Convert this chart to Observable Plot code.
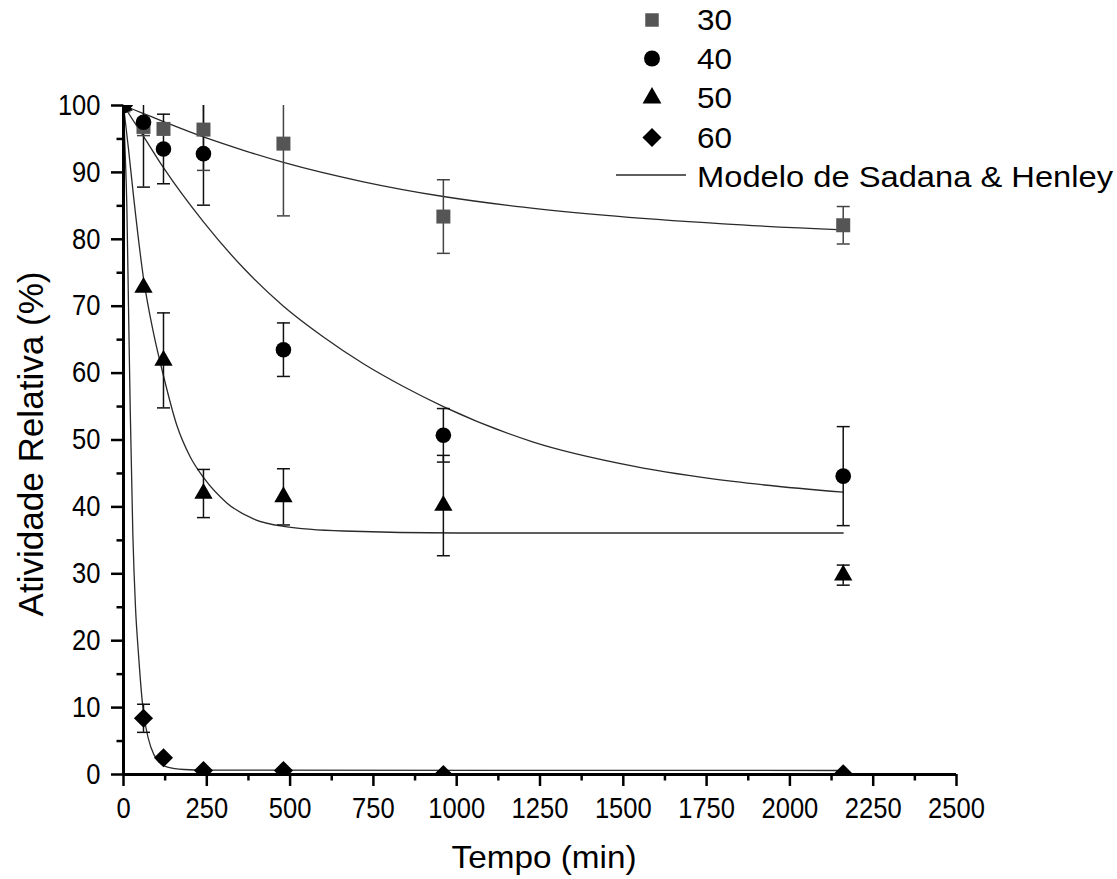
<!DOCTYPE html>
<html>
<head>
<meta charset="utf-8">
<script src="https://cdn.jsdelivr.net/npm/d3@7"></script>
<script src="https://cdn.jsdelivr.net/npm/@observablehq/plot@0.6"></script>
<style>
  html, body { margin: 0; padding: 0; background: #fff; }
  svg { display: block; }
</style>
</head>
<body>
<div id="chart"></div>
<script>
// ---------- data ----------
const times = [0, 60, 120, 240, 480, 960, 2160];

const act30 = [100, 96.8, 96.5, 96.4, 94.3, 83.4, 82.1];
const err30 = [0, 1.3, 0, 6.1, 10.8, 5.5, 2.8];

const act40 = [100, 97.5, 93.5, 92.8, 63.5, 50.7, 44.6];
const err40 = [0, 9.7, 5.2, 7.7, 4.0, 4.0, 7.4];

const act50 = [100, 72.8, 61.9, 42.0, 41.5, 40.2, 29.8];
const err50 = [0, 0, 7.1, 3.6, 4.2, 7.5, 1.5];

const act60 = [100, 8.4, 2.5, 0.6, 0.6, 0.0, 0.1];
const err60 = [0, 2.1, 0, 0, 0, 0, 0];

// model curves (Sadana & Henley)
const fit30T = [0, 60, 120, 240, 360, 480, 720, 960, 1200, 1440, 1800, 2160];
const fit30  = [100, 98.8, 97.6, 95.3, 93.3, 91.5, 88.6, 86.4, 84.8, 83.6, 82.3, 81.4];
const fit40T = [0, 60, 120, 240, 360, 480, 600, 720, 840, 960, 1230, 1530, 1830, 2160];
const fit40  = [100, 95.4, 90.7, 82.6, 75.7, 70.0, 65.4, 61.4, 58.0, 55.0, 49.7, 46.1, 43.8, 42.2];
const fit50T = [0, 15, 30, 60, 90, 120, 160, 200, 240, 310, 390, 480, 660, 1000, 1500, 2160];
const fit50  = [100, 93.5, 86.5, 74.2, 66.0, 59.6, 52.2, 47.5, 44.4, 40.6, 38.2, 37.1, 36.4, 36.1, 36.1, 36.1];
const fit60T = [0, 5, 10, 15, 20, 28, 36, 45, 57, 67, 82, 102, 132, 182, 250, 2160];
const fit60  = [100, 93, 85, 70, 55, 36, 25, 18, 10.6, 7.1, 4.1, 2.1, 1.1, 0.75, 0.65, 0.6];

const seriesNames = ["30", "40", "50", "60"];
const modelLabel = "Modelo de Sadana & Henley";
const xLabel = "Tempo (min)";
const yLabel = "Atividade Relativa (%)";

const xMajor = [0, 250, 500, 750, 1000, 1250, 1500, 1750, 2000, 2250, 2500];
const xMinor = [125, 375, 625, 875, 1125, 1375, 1625, 1875, 2125, 2375];
const yMajor = [0, 10, 20, 30, 40, 50, 60, 70, 80, 90, 100];
const yMinor = [5, 15, 25, 35, 45, 55, 65, 75, 85, 95];

// ---------- build tables ----------
const pts = (vals, errs, s) => times.map((t, i) => ({t, v: vals[i], e: errs[i], s}));
const p30 = pts(act30, err30, "30");
const p40 = pts(act40, err40, "40");
const p50 = pts(act50, err50, "50");
const p60 = pts(act60, err60, "60");
const errRows = [...p30, ...p40, ...p50, ...p60]
  .filter(d => d.e > 0)
  .map(d => ({...d, lo: d.v - d.e, hi: d.v + d.e}));
const fitRows = [
  ...fit30T.map((t, i) => ({t, v: fit30[i], s: "30"})),
  ...fit40T.map((t, i) => ({t, v: fit40[i], s: "40"})),
  ...fit50T.map((t, i) => ({t, v: fit50[i], s: "50"})),
  ...fit60T.map((t, i) => ({t, v: fit60[i], s: "60"}))
];

const capSymbol = { draw(ctx) { ctx.moveTo(-6.5, 0); ctx.lineTo(6.5, 0); } };
const barColor = d => d.s === "30" ? "#444" : "#111";

const W = 1117, H = 879;
const chart = Plot.plot({
  width: W, height: H,
  marginLeft: 123, marginRight: 161, marginTop: 105, marginBottom: 105,
  style: { fontFamily: "'Liberation Sans', Arial, sans-serif", background: "#fff", color: "#000" },
  x: { domain: [0, 2500], label: null },
  y: { domain: [0, 100], label: null },
  marks: [
    Plot.line(fitRows, { x: "t", y: "v", z: "s", curve: "monotone-x", stroke: "#2a2a2a", strokeWidth: 1.3 }),
    Plot.ruleX(errRows, { x: "t", y1: "lo", y2: "hi", stroke: barColor, strokeWidth: 1.5, clip: true }),
    Plot.dot(errRows, { x: "t", y: "lo", symbol: capSymbol, fill: "none", stroke: barColor, strokeWidth: 1.5, clip: true }),
    Plot.dot(errRows, { x: "t", y: "hi", symbol: capSymbol, fill: "none", stroke: barColor, strokeWidth: 1.5, clip: true }),
    Plot.dot(p30, { x: "t", y: "v", symbol: "square", r: 7.9, fill: "#555", clip: true }),
    Plot.dot(p40, { x: "t", y: "v", symbol: "circle", r: 7.8, fill: "#000", clip: true }),
    Plot.dot(p50, { x: "t", y: "v", symbol: "triangle", r: 6.8, fill: "#000", clip: true }),
    Plot.dot(p60, { x: "t", y: "v", symbol: "diamond2", r: 8.6, fill: "#000", clip: true }),
    Plot.ruleX([0], { stroke: "#000", strokeWidth: 3 }),
    Plot.ruleY([0], { stroke: "#000", strokeWidth: 3 }),
    Plot.axisX(xMajor, { tickSize: 12, tickPadding: 11, fontSize: 29, strokeWidth: 2.5, label: null, tickFormat: d => String(d) }),
    Plot.axisX(xMinor, { tickSize: 6.5, strokeWidth: 2.5, label: null, tickFormat: () => "" }),
    Plot.axisY(yMajor, { tickSize: 12, tickPadding: 11, fontSize: 29, strokeWidth: 2.5, label: null, tickFormat: d => String(d) }),
    Plot.axisY(yMinor, { tickSize: 6.5, strokeWidth: 2.5, label: null, tickFormat: () => "" })
  ]
});

document.getElementById("chart").append(chart);

// compress tick labels horizontally (narrow look of the original)
chart.querySelectorAll('g[aria-label="x-axis tick label"] text, g[aria-label="y-axis tick label"] text').forEach(t => {
  const L = t.getComputedTextLength();
  if (L > 0) { t.setAttribute("textLength", (L * 0.88).toFixed(1)); t.setAttribute("lengthAdjust", "spacingAndGlyphs"); }
});

const svg = d3.select(chart);
const font = "'Liberation Sans', Arial, sans-serif";

// axis titles
svg.append("text")
  .attr("x", 544).attr("y", 868)
  .attr("text-anchor", "middle")
  .attr("font-family", font).attr("font-size", 32)
  .attr("textLength", 185).attr("lengthAdjust", "spacingAndGlyphs")
  .attr("fill", "#000")
  .text(xLabel);
svg.append("text")
  .attr("transform", "translate(43,444) rotate(-90)")
  .attr("text-anchor", "middle")
  .attr("font-family", font).attr("font-size", 35)
  .attr("textLength", 345).attr("lengthAdjust", "spacingAndGlyphs")
  .attr("fill", "#000")
  .text(yLabel);

// legend
const legSyms = [
  { sym: d3.symbolSquare, r: 7.6, fill: "#555" },
  { sym: d3.symbolCircle, r: 8, fill: "#000" },
  { sym: d3.symbolTriangle, r: 7, fill: "#000" },
  { sym: d3.symbolDiamond2, r: 8.6, fill: "#000" }
];
const legY = [20, 58.5, 98, 137.5];
const legBase = [30, 68.5, 108, 147.5];
const lg = svg.append("g").attr("font-family", font).attr("font-size", 30).attr("text-anchor", "start").attr("fill", "#000");
seriesNames.forEach((name, i) => {
  const s = legSyms[i];
  lg.append("path")
    .attr("transform", `translate(652,${legY[i]})`)
    .attr("d", d3.symbol(s.sym, Math.PI * s.r * s.r)())
    .attr("fill", s.fill);
  lg.append("text").attr("x", 697).attr("y", legBase[i])
    .attr("text-anchor", "start")
    .attr("textLength", 35).attr("lengthAdjust", "spacingAndGlyphs")
    .text(name);
});
lg.append("line").attr("x1", 616).attr("x2", 686).attr("y1", 175).attr("y2", 175)
  .attr("stroke", "#2a2a2a").attr("stroke-width", 1.3);
lg.append("text").attr("x", 697).attr("y", 187)
  .attr("text-anchor", "start")
  .attr("textLength", 416).attr("lengthAdjust", "spacingAndGlyphs")
  .text(modelLabel);
</script>
</body>
</html>
